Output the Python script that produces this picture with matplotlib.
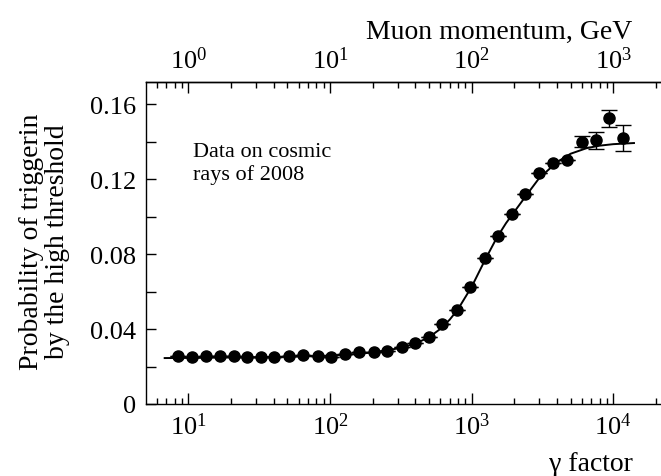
import matplotlib
matplotlib.use("Agg")
import matplotlib.pyplot as plt
from matplotlib.ticker import LogLocator, MultipleLocator, FixedFormatter, FixedLocator, NullFormatter

plt.rcParams['font.family'] = ['Liberation Serif', 'DejaVu Serif']
plt.rcParams['mathtext.fontset'] = 'stix'
plt.rcParams['mathtext.default'] = 'regular'

# measured points (gamma factor, trigger probability)
gamma = [8.4, 10.6, 13.3, 16.6, 20.9, 26.1, 32.7, 40.5, 51.6, 64.9, 81.9,
         101.6, 128, 159.5, 203, 251, 322, 396, 498, 618, 789, 980, 1250,
         1536, 1928, 2394, 2992, 3777, 4690, 6012, 7550, 9370, 11770]
prob = [0.0257, 0.0250, 0.0258, 0.0255, 0.0255, 0.0250, 0.0250, 0.0253,
        0.0255, 0.0262, 0.0257, 0.0253, 0.0266, 0.0275, 0.0278, 0.0285,
        0.0303, 0.0325, 0.0360, 0.0426, 0.0503, 0.0622, 0.0777, 0.0895,
        0.1011, 0.1120, 0.1230, 0.1284, 0.1300, 0.1400, 0.1406, 0.1523,
        0.1420]
prob_err = [0] * 29 + [0.003, 0.0046, 0.0047, 0.007]

# fitted curve
curve_gamma = [6.8, 20, 50, 100, 150, 200, 300, 400, 500, 600, 700, 800,
               1000, 1250, 1500, 1750, 2000, 2500, 3000, 4000, 5000, 6500,
               8000, 10000, 14000]
curve_prob = [0.0245, 0.0248, 0.0252, 0.0258, 0.0266, 0.0275, 0.0296, 0.0322,
              0.0356, 0.0400, 0.0450, 0.0505, 0.0625, 0.0772, 0.0885, 0.0965,
              0.1025, 0.1125, 0.1205, 0.1290, 0.1335, 0.1365, 0.1378, 0.1386,
              0.1392]

# axis ticks
bottom_ticks = [10, 100, 1000, 10000]
top_ticks = [1, 10, 100, 1000]
y_ticks = [0, 0.04, 0.08, 0.12, 0.16]
y_labels = ['0', '0.04', '0.08', '0.12', '0.16']

fig = plt.figure(figsize=(6.61, 4.77), dpi=100)
ax = fig.add_axes([146 / 661, 72 / 477, 515 / 661, 321.7 / 477])

ax.plot(curve_gamma, curve_prob, color='black', lw=1.4, zorder=2)
ax.errorbar(gamma, prob, yerr=prob_err, fmt='o', color='black', ms=8,
            capsize=6, elinewidth=1.0, capthick=1.0, zorder=3)

ax.set_xscale('log')
ax.set_xlim(5.02, 10 ** 4.337)
ax.set_ylim(0, 0.1716)

ax.xaxis.set_major_locator(FixedLocator(bottom_ticks))
ax.xaxis.set_minor_locator(LogLocator(base=10, subs=range(2, 10), numticks=20))
ax.xaxis.set_minor_formatter(NullFormatter())
ax.yaxis.set_major_locator(FixedLocator(y_ticks))
ax.yaxis.set_major_formatter(FixedFormatter(y_labels))
ax.yaxis.set_minor_locator(MultipleLocator(0.02))

ax.tick_params(axis='x', which='major', direction='in', length=8, width=1,
               labelsize=19, pad=6, top=False)
ax.tick_params(axis='x', which='minor', direction='in', length=4.5, width=1, top=False)
ax.tick_params(axis='y', which='both', direction='in', length=7, width=1,
               labelsize=19, pad=7)
ax.spines['right'].set_visible(False)
for s in ['left', 'top', 'bottom']:
    ax.spines[s].set_linewidth(1.0)

top = ax.secondary_xaxis('top', functions=(lambda x: x / 10, lambda x: x * 10))
top.xaxis.set_major_locator(FixedLocator(top_ticks))
top.xaxis.set_minor_locator(LogLocator(base=10, subs=range(2, 10), numticks=20))
top.xaxis.set_minor_formatter(NullFormatter())
top.tick_params(axis='x', which='major', direction='in', length=8, width=1,
                labelsize=19, pad=7)
top.tick_params(axis='x', which='minor', direction='in', length=4.5, width=1)
top.spines['top'].set_linewidth(1.0)

ax.set_ylabel("Probability of triggerin\nby the high threshold", fontsize=20,
              linespacing=1.05)
ax.yaxis.set_label_coords(-0.148, 0.507)

fig.text(633 / 661, 1 - 465 / 477, "\u03b3 factor", fontsize=20,
         ha='right', va='center')
fig.text(632 / 661, 1 - 32 / 477, "Muon momentum, GeV", fontsize=20,
         ha='right', va='center')

ax.text(0.091, 0.815, "Data on cosmic\nrays of 2008", transform=ax.transAxes,
        fontsize=16, ha='left', va='top', linespacing=1.25)

fig.savefig("out.png", dpi=100)
